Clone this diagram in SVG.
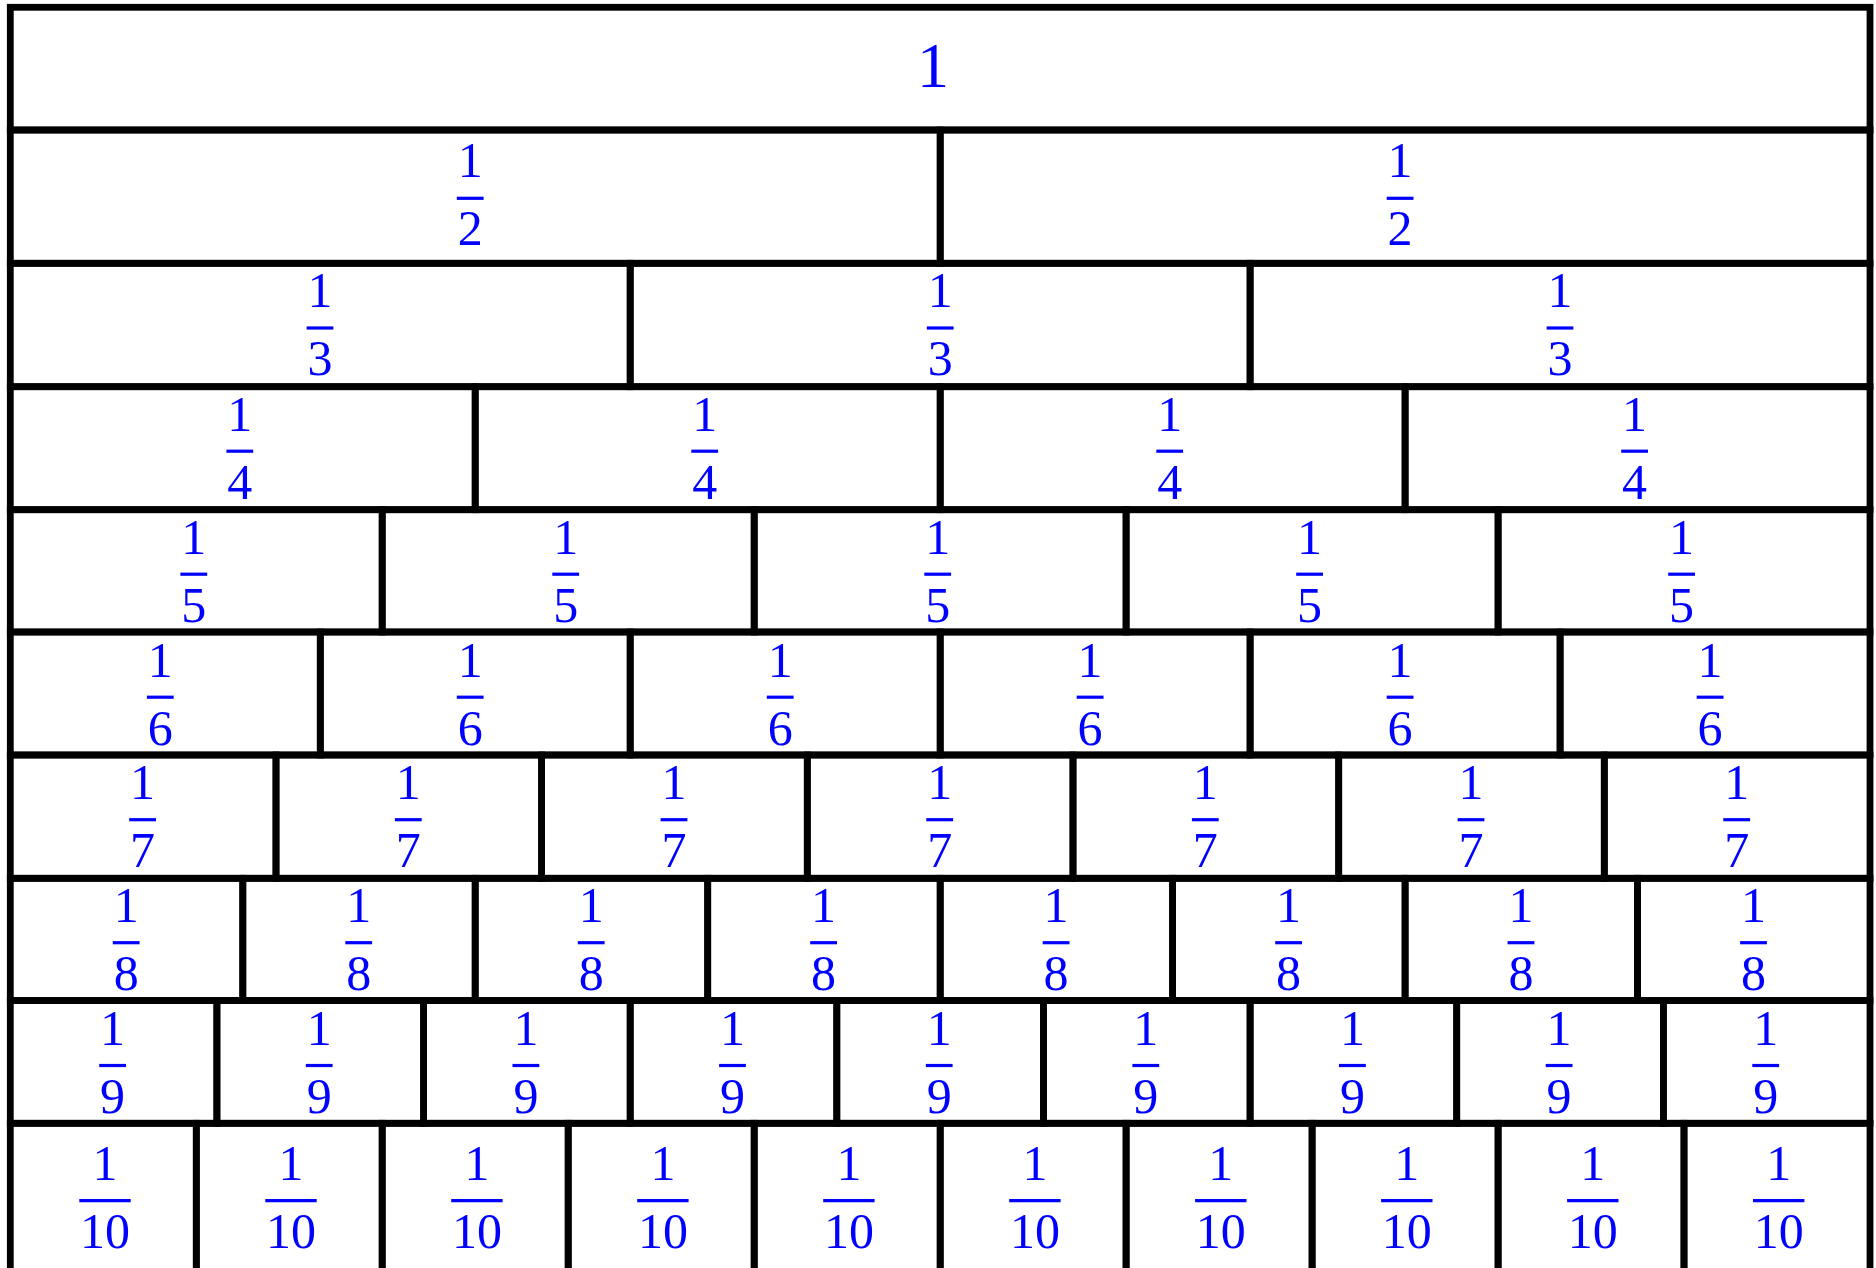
<svg xmlns="http://www.w3.org/2000/svg" width="1876" height="1268" viewBox="0 0 1876 1268">
<style>
.c{fill:none;stroke:#000;stroke-width:6.8;stroke-linejoin:miter}
.t{font-family:"Liberation Serif",serif;font-size:50px;fill:#00f;text-anchor:middle}
.w{font-family:"Liberation Serif",serif;font-size:64px;fill:#00f;text-anchor:middle}
.b{stroke:#00f;stroke-width:3.2}
</style>
<rect x="0" y="0" width="1876" height="1268" fill="#fff"/>
<g id="whole"><rect class="c" x="10.3" y="7.3" width="1859.7" height="122.7"/><text class="w" x="933" y="86.7">1</text></g>

<g id="halves">
<g id="h1"><rect class="c" x="10.3" y="130" width="929.9" height="133.3"/><text class="t" x="470.2" y="177.3">1</text><line class="b" x1="456.8" y1="198.3" x2="483.6" y2="198.3"/><text class="t" x="470.2" y="245">2</text></g>
<g id="h2"><rect class="c" x="940.2" y="130" width="929.8" height="133.3"/><text class="t" x="1400.1" y="177.3">1</text><line class="b" x1="1386.7" y1="198.3" x2="1413.5" y2="198.3"/><text class="t" x="1400.1" y="245">2</text></g>
</g>

<g id="thirds">
<g id="t1"><rect class="c" x="10.3" y="263.3" width="619.9" height="123.4"/><text class="t" x="320" y="307.3">1</text><line class="b" x1="306.6" y1="328" x2="333.4" y2="328"/><text class="t" x="320" y="375.3">3</text></g>
<g id="t2"><rect class="c" x="630.2" y="263.3" width="619.9" height="123.4"/><text class="t" x="940.2" y="307.3">1</text><line class="b" x1="926.8" y1="328" x2="953.6" y2="328"/><text class="t" x="940.2" y="375.3">3</text></g>
<g id="t3"><rect class="c" x="1250.1" y="263.3" width="619.9" height="123.4"/><text class="t" x="1560" y="307.3">1</text><line class="b" x1="1546.6" y1="328" x2="1573.4" y2="328"/><text class="t" x="1560" y="375.3">3</text></g>
</g>

<g id="quarters">
<g id="q1"><rect class="c" x="10.3" y="386.7" width="464.9" height="123"/><text class="t" x="239.8" y="430.7">1</text><line class="b" x1="226.4" y1="451.2" x2="253.2" y2="451.2"/><text class="t" x="239.8" y="498.5">4</text></g>
<g id="q2"><rect class="c" x="475.2" y="386.7" width="465" height="123"/><text class="t" x="704.7" y="430.7">1</text><line class="b" x1="691.3" y1="451.2" x2="718.1" y2="451.2"/><text class="t" x="704.7" y="498.5">4</text></g>
<g id="q3"><rect class="c" x="940.2" y="386.7" width="464.9" height="123"/><text class="t" x="1169.7" y="430.7">1</text><line class="b" x1="1156.3" y1="451.2" x2="1183.1" y2="451.2"/><text class="t" x="1169.7" y="498.5">4</text></g>
<g id="q4"><rect class="c" x="1405.1" y="386.7" width="464.9" height="123"/><text class="t" x="1634.6" y="430.7">1</text><line class="b" x1="1621.2" y1="451.2" x2="1648" y2="451.2"/><text class="t" x="1634.6" y="498.5">4</text></g>
</g>

<g id="fifths">
<g id="f1"><rect class="c" x="10.3" y="509.7" width="371.9" height="122.3"/><text class="t" x="193.8" y="553.5">1</text><line class="b" x1="180.4" y1="574.2" x2="207.2" y2="574.2"/><text class="t" x="193.8" y="621.5">5</text></g>
<g id="f2"><rect class="c" x="382.2" y="509.7" width="372" height="122.3"/><text class="t" x="565.7" y="553.5">1</text><line class="b" x1="552.3" y1="574.2" x2="579.1" y2="574.2"/><text class="t" x="565.7" y="621.5">5</text></g>
<g id="f3"><rect class="c" x="754.2" y="509.7" width="371.9" height="122.3"/><text class="t" x="937.7" y="553.5">1</text><line class="b" x1="924.3" y1="574.2" x2="951.1" y2="574.2"/><text class="t" x="937.7" y="621.5">5</text></g>
<g id="f4"><rect class="c" x="1126.1" y="509.7" width="372" height="122.3"/><text class="t" x="1309.6" y="553.5">1</text><line class="b" x1="1296.2" y1="574.2" x2="1323" y2="574.2"/><text class="t" x="1309.6" y="621.5">5</text></g>
<g id="f5"><rect class="c" x="1498.1" y="509.7" width="371.9" height="122.3"/><text class="t" x="1681.6" y="553.5">1</text><line class="b" x1="1668.2" y1="574.2" x2="1695" y2="574.2"/><text class="t" x="1681.6" y="621.5">5</text></g>
</g>

<g id="sixths">
<g id="s1"><rect class="c" x="10.3" y="632" width="310" height="123"/><text class="t" x="160.3" y="676.5">1</text><line class="b" x1="146.9" y1="697.2" x2="173.7" y2="697.2"/><text class="t" x="160.3" y="744.5">6</text></g>
<g id="s2"><rect class="c" x="320.3" y="632" width="309.9" height="123"/><text class="t" x="470.2" y="676.5">1</text><line class="b" x1="456.8" y1="697.2" x2="483.6" y2="697.2"/><text class="t" x="470.2" y="744.5">6</text></g>
<g id="s3"><rect class="c" x="630.2" y="632" width="310" height="123"/><text class="t" x="780.2" y="676.5">1</text><line class="b" x1="766.8" y1="697.2" x2="793.6" y2="697.2"/><text class="t" x="780.2" y="744.5">6</text></g>
<g id="s4"><rect class="c" x="940.2" y="632" width="309.9" height="123"/><text class="t" x="1090.1" y="676.5">1</text><line class="b" x1="1076.7" y1="697.2" x2="1103.5" y2="697.2"/><text class="t" x="1090.1" y="744.5">6</text></g>
<g id="s5"><rect class="c" x="1250.1" y="632" width="310" height="123"/><text class="t" x="1400.1" y="676.5">1</text><line class="b" x1="1386.7" y1="697.2" x2="1413.5" y2="697.2"/><text class="t" x="1400.1" y="744.5">6</text></g>
<g id="s6"><rect class="c" x="1560.1" y="632" width="309.9" height="123"/><text class="t" x="1710.1" y="676.5">1</text><line class="b" x1="1696.7" y1="697.2" x2="1723.5" y2="697.2"/><text class="t" x="1710.1" y="744.5">6</text></g>
</g>

<g id="sevenths">
<g id="v1"><rect class="c" x="10.3" y="755" width="265.7" height="123.3"/><text class="t" x="142.6" y="799">1</text><line class="b" x1="129.2" y1="819.7" x2="156" y2="819.7"/><text class="t" x="142.6" y="867">7</text></g>
<g id="v2"><rect class="c" x="276" y="755" width="265.6" height="123.3"/><text class="t" x="408.3" y="799">1</text><line class="b" x1="394.9" y1="819.7" x2="421.7" y2="819.7"/><text class="t" x="408.3" y="867">7</text></g>
<g id="v3"><rect class="c" x="541.6" y="755" width="265.7" height="123.3"/><text class="t" x="674" y="799">1</text><line class="b" x1="660.6" y1="819.7" x2="687.4" y2="819.7"/><text class="t" x="674" y="867">7</text></g>
<g id="v4"><rect class="c" x="807.3" y="755" width="265.7" height="123.3"/><text class="t" x="939.7" y="799">1</text><line class="b" x1="926.3" y1="819.7" x2="953.1" y2="819.7"/><text class="t" x="939.7" y="867">7</text></g>
<g id="v5"><rect class="c" x="1073" y="755" width="265.7" height="123.3"/><text class="t" x="1205.3" y="799">1</text><line class="b" x1="1191.9" y1="819.7" x2="1218.7" y2="819.7"/><text class="t" x="1205.3" y="867">7</text></g>
<g id="v6"><rect class="c" x="1338.7" y="755" width="265.6" height="123.3"/><text class="t" x="1471" y="799">1</text><line class="b" x1="1457.6" y1="819.7" x2="1484.4" y2="819.7"/><text class="t" x="1471" y="867">7</text></g>
<g id="v7"><rect class="c" x="1604.3" y="755" width="265.7" height="123.3"/><text class="t" x="1736.7" y="799">1</text><line class="b" x1="1723.3" y1="819.7" x2="1750.1" y2="819.7"/><text class="t" x="1736.7" y="867">7</text></g>
</g>

<g id="eighths">
<g id="e1"><rect class="c" x="10.3" y="878.3" width="232.5" height="122.2"/><text class="t" x="126.2" y="922">1</text><line class="b" x1="112.8" y1="942.7" x2="139.6" y2="942.7"/><text class="t" x="126.2" y="990">8</text></g>
<g id="e2"><rect class="c" x="242.8" y="878.3" width="232.4" height="122.2"/><text class="t" x="358.7" y="922">1</text><line class="b" x1="345.3" y1="942.7" x2="372.1" y2="942.7"/><text class="t" x="358.7" y="990">8</text></g>
<g id="e3"><rect class="c" x="475.2" y="878.3" width="232.5" height="122.2"/><text class="t" x="591.2" y="922">1</text><line class="b" x1="577.8" y1="942.7" x2="604.6" y2="942.7"/><text class="t" x="591.2" y="990">8</text></g>
<g id="e4"><rect class="c" x="707.7" y="878.3" width="232.5" height="122.2"/><text class="t" x="823.6" y="922">1</text><line class="b" x1="810.2" y1="942.7" x2="837" y2="942.7"/><text class="t" x="823.6" y="990">8</text></g>
<g id="e5"><rect class="c" x="940.2" y="878.3" width="232.4" height="122.2"/><text class="t" x="1056.1" y="922">1</text><line class="b" x1="1042.7" y1="942.7" x2="1069.5" y2="942.7"/><text class="t" x="1056.1" y="990">8</text></g>
<g id="e6"><rect class="c" x="1172.6" y="878.3" width="232.5" height="122.2"/><text class="t" x="1288.6" y="922">1</text><line class="b" x1="1275.2" y1="942.7" x2="1302" y2="942.7"/><text class="t" x="1288.6" y="990">8</text></g>
<g id="e7"><rect class="c" x="1405.1" y="878.3" width="232.4" height="122.2"/><text class="t" x="1521" y="922">1</text><line class="b" x1="1507.6" y1="942.7" x2="1534.4" y2="942.7"/><text class="t" x="1521" y="990">8</text></g>
<g id="e8"><rect class="c" x="1637.5" y="878.3" width="232.5" height="122.2"/><text class="t" x="1753.5" y="922">1</text><line class="b" x1="1740.1" y1="942.7" x2="1766.9" y2="942.7"/><text class="t" x="1753.5" y="990">8</text></g>
</g>

<g id="ninths">
<g id="n1"><rect class="c" x="10.3" y="1000.5" width="206.6" height="122.8"/><text class="t" x="112.6" y="1044.8">1</text><line class="b" x1="99.2" y1="1065.5" x2="126" y2="1065.5"/><text class="t" x="112.6" y="1112.8">9</text></g>
<g id="n2"><rect class="c" x="216.9" y="1000.5" width="206.7" height="122.8"/><text class="t" x="319.2" y="1044.8">1</text><line class="b" x1="305.8" y1="1065.5" x2="332.6" y2="1065.5"/><text class="t" x="319.2" y="1112.8">9</text></g>
<g id="n3"><rect class="c" x="423.6" y="1000.5" width="206.6" height="122.8"/><text class="t" x="525.9" y="1044.8">1</text><line class="b" x1="512.5" y1="1065.5" x2="539.3" y2="1065.5"/><text class="t" x="525.9" y="1112.8">9</text></g>
<g id="n4"><rect class="c" x="630.2" y="1000.5" width="206.6" height="122.8"/><text class="t" x="732.5" y="1044.8">1</text><line class="b" x1="719.1" y1="1065.5" x2="745.9" y2="1065.5"/><text class="t" x="732.5" y="1112.8">9</text></g>
<g id="n5"><rect class="c" x="836.8" y="1000.5" width="206.7" height="122.8"/><text class="t" x="939.2" y="1044.8">1</text><line class="b" x1="925.8" y1="1065.5" x2="952.6" y2="1065.5"/><text class="t" x="939.2" y="1112.8">9</text></g>
<g id="n6"><rect class="c" x="1043.5" y="1000.5" width="206.6" height="122.8"/><text class="t" x="1145.8" y="1044.8">1</text><line class="b" x1="1132.4" y1="1065.5" x2="1159.2" y2="1065.5"/><text class="t" x="1145.8" y="1112.8">9</text></g>
<g id="n7"><rect class="c" x="1250.1" y="1000.5" width="206.6" height="122.8"/><text class="t" x="1352.4" y="1044.8">1</text><line class="b" x1="1339" y1="1065.5" x2="1365.8" y2="1065.5"/><text class="t" x="1352.4" y="1112.8">9</text></g>
<g id="n8"><rect class="c" x="1456.7" y="1000.5" width="206.7" height="122.8"/><text class="t" x="1559.1" y="1044.8">1</text><line class="b" x1="1545.7" y1="1065.5" x2="1572.5" y2="1065.5"/><text class="t" x="1559.1" y="1112.8">9</text></g>
<g id="n9"><rect class="c" x="1663.4" y="1000.5" width="206.6" height="122.8"/><text class="t" x="1765.7" y="1044.8">1</text><line class="b" x1="1752.3" y1="1065.5" x2="1779.1" y2="1065.5"/><text class="t" x="1765.7" y="1112.8">9</text></g>
</g>

<g id="tenths">
<g id="d1"><rect class="c" x="10.3" y="1123.3" width="186" height="149"/><text class="t" x="105" y="1180">1</text><line class="b" x1="79.3" y1="1200.7" x2="130.7" y2="1200.7"/><text class="t" x="105" y="1248">10</text></g>
<g id="d2"><rect class="c" x="196.3" y="1123.3" width="185.9" height="149"/><text class="t" x="291" y="1180">1</text><line class="b" x1="265.3" y1="1200.7" x2="316.7" y2="1200.7"/><text class="t" x="291" y="1248">10</text></g>
<g id="d3"><rect class="c" x="382.2" y="1123.3" width="186" height="149"/><text class="t" x="476.9" y="1180">1</text><line class="b" x1="451.2" y1="1200.7" x2="502.6" y2="1200.7"/><text class="t" x="476.9" y="1248">10</text></g>
<g id="d4"><rect class="c" x="568.2" y="1123.3" width="186" height="149"/><text class="t" x="662.9" y="1180">1</text><line class="b" x1="637.2" y1="1200.7" x2="688.6" y2="1200.7"/><text class="t" x="662.9" y="1248">10</text></g>
<g id="d5"><rect class="c" x="754.2" y="1123.3" width="186" height="149"/><text class="t" x="848.9" y="1180">1</text><line class="b" x1="823.2" y1="1200.7" x2="874.6" y2="1200.7"/><text class="t" x="848.9" y="1248">10</text></g>
<g id="d6"><rect class="c" x="940.2" y="1123.3" width="185.9" height="149"/><text class="t" x="1034.9" y="1180">1</text><line class="b" x1="1009.2" y1="1200.7" x2="1060.6" y2="1200.7"/><text class="t" x="1034.9" y="1248">10</text></g>
<g id="d7"><rect class="c" x="1126.1" y="1123.3" width="186" height="149"/><text class="t" x="1220.8" y="1180">1</text><line class="b" x1="1195.1" y1="1200.7" x2="1246.5" y2="1200.7"/><text class="t" x="1220.8" y="1248">10</text></g>
<g id="d8"><rect class="c" x="1312.1" y="1123.3" width="186" height="149"/><text class="t" x="1406.8" y="1180">1</text><line class="b" x1="1381.1" y1="1200.7" x2="1432.5" y2="1200.7"/><text class="t" x="1406.8" y="1248">10</text></g>
<g id="d9"><rect class="c" x="1498.1" y="1123.3" width="185.9" height="149"/><text class="t" x="1592.8" y="1180">1</text><line class="b" x1="1567.1" y1="1200.7" x2="1618.5" y2="1200.7"/><text class="t" x="1592.8" y="1248">10</text></g>
<g id="d10"><rect class="c" x="1684" y="1123.3" width="186" height="149"/><text class="t" x="1778.7" y="1180">1</text><line class="b" x1="1753" y1="1200.7" x2="1804.4" y2="1200.7"/><text class="t" x="1778.7" y="1248">10</text></g>
</g>
</svg>
